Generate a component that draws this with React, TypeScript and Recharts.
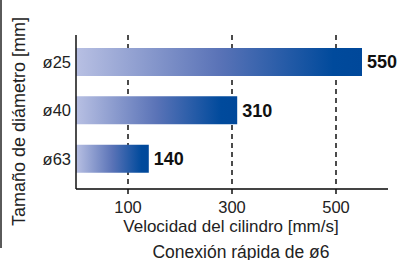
import { BarChart, Bar, XAxis, YAxis, CartesianGrid, LabelList } from 'recharts';

const sizes = ['ø25', 'ø40', 'ø63'];
const speeds = [550, 310, 140];
const speedTicks = [100, 300, 500];

const data = sizes.map((size, i) => ({ size, speed: speeds[i] }));

const FONT = '"Liberation Sans", Arial, Helvetica, sans-serif';

export default function App() {
  return (
    <div
      style={{
        position: 'absolute',
        left: 0,
        top: 0,
        width: 399,
        height: 260,
        background: '#fff',
        fontFamily: FONT,
      }}
    >
      {/* thin grey frame edge on the left */}
      <div style={{ position: 'absolute', left: 0, top: 0, width: 2, height: 248, background: '#5a5a5a' }} />
      <BarChart
        width={399}
        height={260}
        data={data}
        layout="vertical"
        margin={{ top: 35, right: 11, bottom: 0, left: 0 }}
      >
        <defs>
          <linearGradient id="barGrad" x1="0" y1="0" x2="1" y2="0">
            <stop offset="0%" stopColor="#b8c0e3" />
            <stop offset="50%" stopColor="#5a73b7" />
            <stop offset="90%" stopColor="#004a9c" />
            <stop offset="100%" stopColor="#00489a" />
          </linearGradient>
        </defs>
        <CartesianGrid
          horizontal={false}
          verticalValues={speedTicks}
          stroke="#111"
          strokeWidth={1.5}
          strokeDasharray="5 4"
        />
        <XAxis
          type="number"
          domain={[0, 600]}
          ticks={speedTicks}
          height={71}
          axisLine={{ stroke: '#444', strokeWidth: 2 }}
          tickLine={{ stroke: '#111', strokeWidth: 1.5 }}
          tickSize={5}
          tickMargin={7}
          tick={{ fill: '#222', fontSize: 16.5, fontFamily: FONT }}
        />
        <YAxis
          type="category"
          dataKey="size"
          width={76}
          padding={{ top: 3, bottom: 6 }}
          axisLine={{ stroke: '#111', strokeWidth: 1.5 }}
          tickLine={false}
          tickSize={0}
          tickMargin={5}
          tick={{ fill: '#222', fontSize: 16.5, fontFamily: FONT }}
        />
        <Bar dataKey="speed" fill="url(#barGrad)" barSize={28} isAnimationActive={false}>
          <LabelList
            dataKey="speed"
            position="right"
            offset={5}
            style={{ fill: '#111', fontSize: 18, fontWeight: 700, fontFamily: FONT }}
          />
        </Bar>
      </BarChart>
      <svg
        width={399}
        height={260}
        style={{ position: 'absolute', left: 0, top: 0, pointerEvents: 'none' }}
        fontFamily={FONT}
      >
        <text
          x={19}
          y={121.5}
          transform="rotate(-90 19 121.5)"
          textAnchor="middle"
          dominantBaseline="central"
          fontSize={18}
          fill="#222"
        >
          Tamaño de diámetro [mm]
        </text>
        <text x={231} y={226.5} textAnchor="middle" dominantBaseline="central" fontSize={17} fill="#222">
          Velocidad del cilindro [mm/s]
        </text>
        <text x={241} y={251.5} textAnchor="middle" dominantBaseline="central" fontSize={17.5} fill="#222">
          Conexión rápida de ø6
        </text>
      </svg>
    </div>
  );
}
